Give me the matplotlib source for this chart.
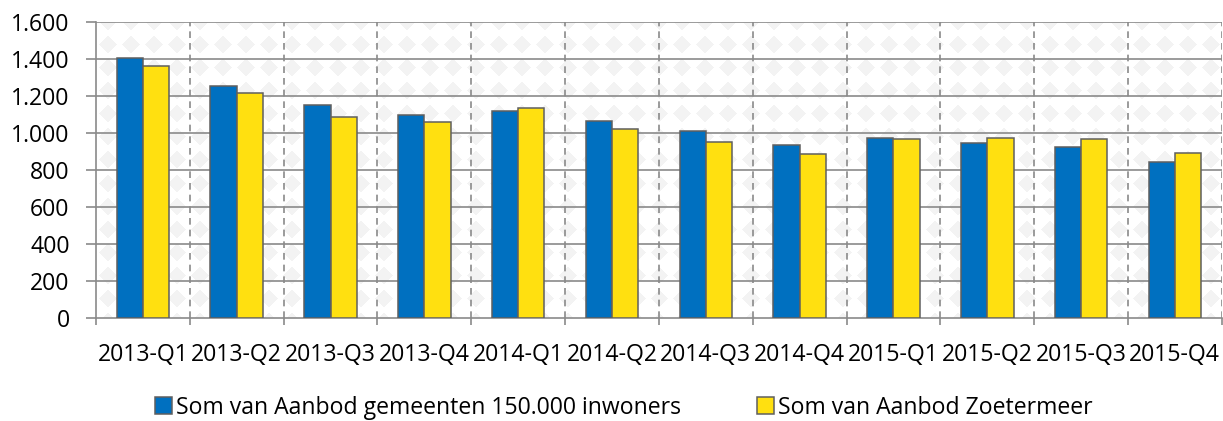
import numpy as np
import matplotlib
matplotlib.use("Agg")
import matplotlib.pyplot as plt
from matplotlib.ticker import FuncFormatter, FixedLocator

plt.rcParams['font.family'] = ['Open Sans', 'DejaVu Sans']

quarters = ['2013-Q1', '2013-Q2', '2013-Q3', '2013-Q4',
            '2014-Q1', '2014-Q2', '2014-Q3', '2014-Q4',
            '2015-Q1', '2015-Q2', '2015-Q3', '2015-Q4']
aanbod_150k = [1402, 1251, 1149, 1096, 1117, 1065, 1009, 934, 973, 944, 923, 840]
aanbod_ztm = [1360, 1213, 1087, 1059, 1132, 1022, 951, 886, 966, 973, 966, 892]
series_names = ['Som van Aanbod gemeenten 150.000 inwoners', 'Som van Aanbod Zoetermeer']
series_colors = ['#0070C0', '#FFE010']

fs = 16.6

fig = plt.figure(figsize=(12.23, 4.21), dpi=100)
ax = fig.add_axes([0.0785, 0.2454, 0.9205, 0.7031])

# diamond background pattern (drawn as an image behind everything)
h, w = 296, 1127
yy, xx = np.mgrid[0:h, 0:w]
p = 23.0
u = ((xx + yy) / p) % 1.0
v = ((xx - yy) / p) % 1.0
gray = (np.abs(u - 0.5) < 0.4) & (np.abs(v - 0.5) < 0.4)
gray = gray & (((np.floor((xx + yy) / p) + np.floor((xx - yy) / p)) % 2) == 0)
bg = np.where(gray, 0.953, 1.0)
ax.imshow(np.dstack([bg, bg, bg]), extent=[-0.5, len(quarters) - 0.5, 0, 1600],
          aspect='auto', zorder=0, interpolation='nearest')

x = np.arange(len(quarters))
bw = 0.28
ax.bar(x - bw / 2, aanbod_150k, bw, color=series_colors[0], edgecolor='#5f5f5f',
       linewidth=1.1, zorder=3, label=series_names[0])
ax.bar(x + bw / 2, aanbod_ztm, bw, color=series_colors[1], edgecolor='#5f5f5f',
       linewidth=1.1, zorder=3, label=series_names[1])

ax.set_xlim(-0.5, len(quarters) - 0.5)
ax.set_ylim(0, 1600)
ax.set_yticks(np.arange(0, 1601, 200))
ax.yaxis.set_major_formatter(FuncFormatter(lambda val, pos: f'{int(val):,}'.replace(',', '.')))

for yv in np.arange(200, 1601, 200):
    ax.axhline(yv, color='#8a8a8a', linewidth=1.2, zorder=1)
for xb in np.arange(0.5, len(quarters) - 0.4, 1):
    ax.axvline(xb, color='#8a8a8a', linewidth=1.2, linestyle=(0, (4, 3)), zorder=1)

ax.set_xticks(x)
ax.set_xticklabels(quarters)
ax.xaxis.set_minor_locator(FixedLocator(np.arange(-0.5, len(quarters), 1)))
ax.tick_params(axis='x', which='major', length=0, pad=18, labelsize=fs)
ax.tick_params(axis='x', which='minor', length=5, width=1.2, color='#8a8a8a', direction='out')
ax.tick_params(axis='y', length=7, width=1.2, color='#8a8a8a', pad=12, labelsize=fs)

for side in ['top', 'right']:
    ax.spines[side].set_visible(False)
for side in ['left', 'bottom']:
    ax.spines[side].set_color('#8a8a8a')
    ax.spines[side].set_linewidth(1.2)

leg = fig.legend(loc='center', bbox_to_anchor=(0.510, 0.032), ncol=2, frameon=False,
                 fontsize=fs, handlelength=0.75, handleheight=0.75, handletextpad=0.15,
                 columnspacing=3.3, borderpad=0)

fig.savefig('out.png', dpi=100)
